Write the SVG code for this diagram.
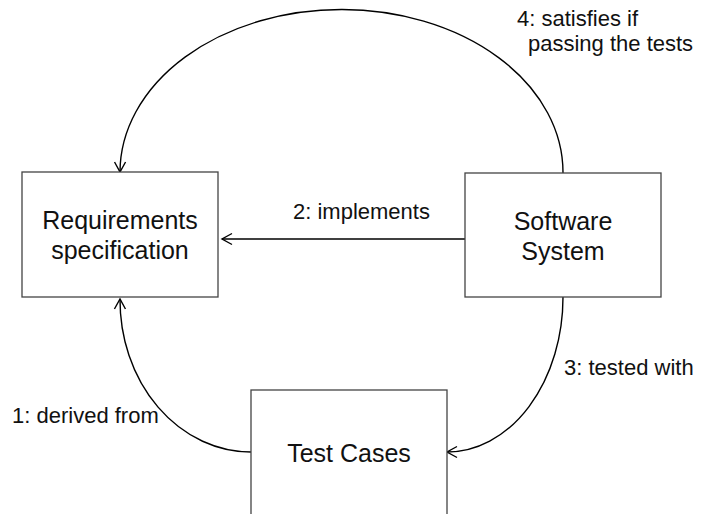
<svg xmlns="http://www.w3.org/2000/svg" width="706" height="514" viewBox="0 0 706 514">
<defs>
<style>
.box{fill:#fff;stroke:#444;stroke-width:1.3}
.lbl{font-family:"Liberation Sans",Arial,sans-serif;font-size:22px;fill:#111}
.nt{font-family:"Liberation Sans",Arial,sans-serif;font-size:25px;fill:#111;text-anchor:middle}
.edge{fill:none;stroke:#000;stroke-width:1.4}
</style>
<marker id="arr" markerUnits="userSpaceOnUse" markerWidth="14" markerHeight="14" viewBox="0 0 14 14" refX="12" refY="7" orient="auto">
<path d="M2,1.5 L12,7 L2,12.5" fill="none" stroke="#000" stroke-width="1.4"/>
</marker>
</defs>
<rect width="706" height="514" fill="#fff"/>
<g id="connectors">
<path class="edge" d="M465,239 L222,239" stroke-width="2" marker-end="url(#arr)"/>
<path class="edge" d="M563,173 A221.5,163 0 0,0 120,172" marker-end="url(#arr)"/>
<path class="edge" d="M563,297 A116,155 0 0,1 447,452" marker-end="url(#arr)"/>
<path class="edge" d="M251,452 A131,152 0 0,1 120,299" marker-end="url(#arr)"/>
<text class="lbl" x="293" y="219">2: implements</text>
<text class="lbl" x="517" y="26">4: satisfies if</text>
<text class="lbl" x="528" y="51">passing the tests</text>
<text class="lbl" x="564" y="375">3: tested with</text>
<text class="lbl" x="12" y="423">1: derived from</text>
</g>
<g id="req">
<rect class="box" x="22" y="172" width="196" height="125"/>
<text class="nt" x="120" y="229">Requirements</text>
<text class="nt" x="120" y="259">specification</text>
</g>
<g id="sw">
<rect class="box" x="465" y="173" width="196" height="124"/>
<text class="nt" x="563" y="230">Software</text>
<text class="nt" x="563" y="260">System</text>
</g>
<g id="tc">
<rect class="box" x="251" y="390" width="196" height="130"/>
<text class="nt" x="349" y="462">Test Cases</text>
</g>
</svg>
